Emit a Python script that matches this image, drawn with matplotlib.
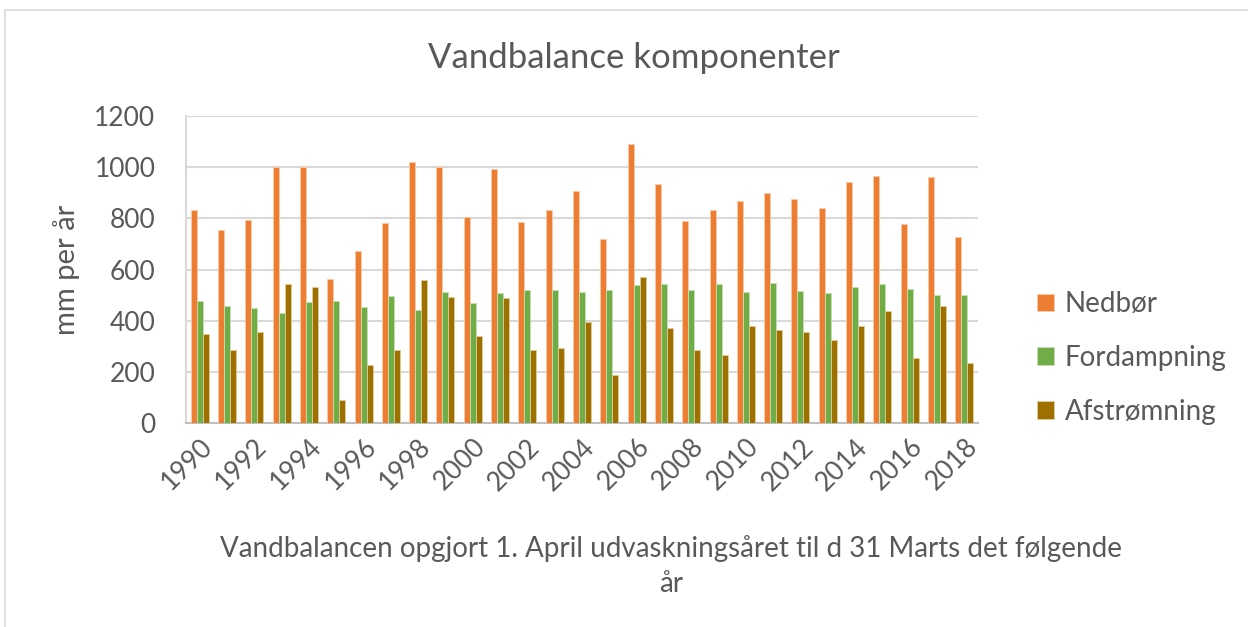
import numpy as np
import matplotlib
matplotlib.use("Agg")
from matplotlib import pyplot as plt
from matplotlib.patches import Rectangle

years = list(range(1990, 2019))
nedboer = [831, 753, 793, 999, 999, 563, 671, 780, 1020, 1001,
           807, 992, 786, 834, 907, 718, 1092, 933, 791, 834,
           866, 899, 877, 839, 941, 964, 779, 960, 726]
fordampning = [476, 459, 451, 431, 473, 476, 452, 495, 443, 511,
               470, 508, 519, 521, 511, 521, 539, 542, 519, 543,
               511, 546, 516, 508, 530, 542, 522, 499, 502]
afstroemning = [349, 284, 357, 542, 530, 91, 228, 287, 558, 494,
                339, 489, 284, 292, 393, 189, 569, 370, 287, 266,
                380, 364, 357, 326, 378, 439, 253, 456, 235]

plt.rcParams['font.family'] = ['Lato', 'DejaVu Sans']
txt = '#595959'

fig = plt.figure(figsize=(12.48, 6.27), dpi=100)
ax = fig.add_axes([186 / 1248, 1 - 423 / 627, 792 / 1248, 307 / 627])

x = np.arange(len(years))
w = 0.22
ax.bar(x - w, nedboer, w, color='#ED7D31', edgecolor='#F8CBAD', linewidth=0.6, label='Nedbør', zorder=3)
ax.bar(x, fordampning, w, color='#70AD47', edgecolor='#C5E0B4', linewidth=0.6, label='Fordampning', zorder=3)
ax.bar(x + w, afstroemning, w, color='#9E7000', edgecolor='#E2CC99', linewidth=0.6, label='Afstrømning', zorder=3)

ax.set_xlim(-0.5, len(years) - 0.5)
ax.set_ylim(0, 1200)
ax.set_yticks(range(0, 1201, 200))
ax.yaxis.grid(True, color='#D9D9D9', linewidth=1.5, zorder=0)
ax.set_xticks(x[::2])
ax.set_xticklabels([str(y) for y in years[::2]], rotation=45, ha='right',
                   rotation_mode='anchor', fontsize=19, color=txt)
ax.tick_params(axis='y', labelsize=19, labelcolor=txt, length=0, pad=22)
ax.tick_params(axis='x', length=0, pad=8)
for s in ['top', 'right']:
    ax.spines[s].set_visible(False)
ax.spines['left'].set_color('#D9D9D9')
ax.spines['left'].set_linewidth(1.5)
ax.spines['bottom'].set_color('#BFBFBF')
ax.spines['bottom'].set_linewidth(1.5)

ax.set_ylabel('mm per år', fontsize=21, color=txt, labelpad=10)
fig.text(0.508, 1 - 58 / 627, 'Vandbalance komponenter', ha='center', va='center',
         fontsize=25, color=txt)
fig.text(0.538, 1 - 566 / 627,
         'Vandbalancen opgjort 1. April udvaskningsåret til d 31 Marts det følgende\når',
         ha='center', va='center', fontsize=20, color=txt, linespacing=1.4)

leg = fig.legend(loc='center left', bbox_to_anchor=(1012 / 1248, 1 - 358 / 627),
                 frameon=False, fontsize=20, labelcolor=txt, handlelength=0.6,
                 handleheight=0.6, handletextpad=0.4, labelspacing=1.0)

fig.patches.append(Rectangle((5 / 1248, -0.05), 1.1, 1 - 10 / 627 + 0.05,
                             transform=fig.transFigure, fill=False,
                             edgecolor='#D9D9D9', linewidth=1.2))

fig.savefig('out.png', dpi=100)
